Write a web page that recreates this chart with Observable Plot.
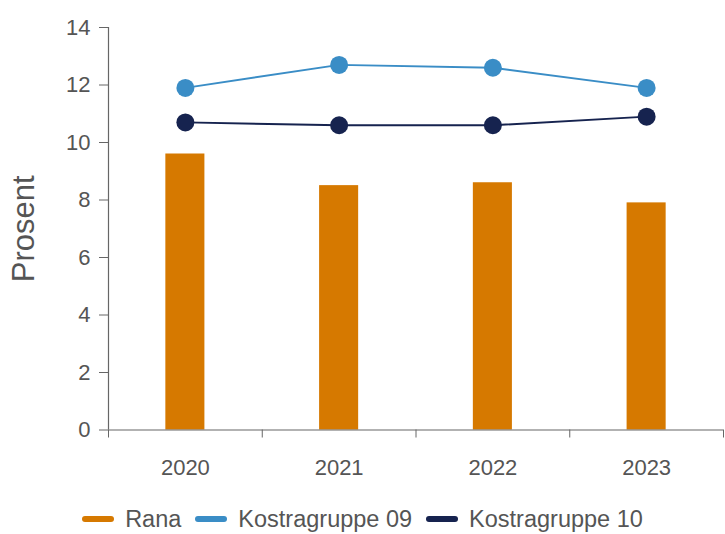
<!DOCTYPE html>
<html>
<head>
<meta charset="utf-8">
<script src="https://cdn.jsdelivr.net/npm/d3@7"></script>
<script src="https://cdn.jsdelivr.net/npm/@observablehq/plot@0.6"></script>
<style>
  html, body { margin: 0; padding: 0; background: #fff; }
  #chart { width: 725px; font-family: "Liberation Sans", Arial, sans-serif; color: #555; }
  #chart svg g[aria-label="y-axis label"] text { font-size: 31px; }
  .legend { display: flex; justify-content: center; align-items: center; margin-top: 6px; font-size: 23.5px; color: #555; height: 26px; }
  .legend .item { display: flex; align-items: center; margin: 0 7px; }
  .legend .sw { display: inline-block; width: 32px; height: 6px; border-radius: 3px; margin-right: 11px; }
</style>
</head>
<body>
<div id="chart"></div>
<script>
const years = [2020, 2021, 2022, 2023];
const rana = [9.6, 8.5, 8.6, 7.9];
const kostra09 = [11.9, 12.7, 12.6, 11.9];
const kostra10 = [10.7, 10.6, 10.6, 10.9];
const seriesNames = ["Rana", "Kostragruppe 09", "Kostragruppe 10"];
const colors = ["#d67900", "#3a8dc6", "#16234f"];
const yTicks = [0, 2, 4, 6, 8, 10, 12, 14];

const barData = years.map((y, i) => ({year: y, value: rana[i]}));
const lineData = [
  ...years.map((y, i) => ({year: y, value: kostra09[i], series: seriesNames[1]})),
  ...years.map((y, i) => ({year: y, value: kostra10[i], series: seriesNames[2]}))
];
const boundaries = years.map(y => y - 0.5).concat([years[years.length - 1] + 0.5]);
const halfBar = 0.127;

const plot = Plot.plot({
  width: 725,
  height: 500,
  marginLeft: 108,
  marginRight: 2,
  marginTop: 27,
  marginBottom: 70.5,
  style: {fontSize: "22px", fontFamily: "Liberation Sans, Arial, sans-serif", color: "#555", background: "#fff", overflow: "visible"},
  x: {domain: [boundaries[0], boundaries[boundaries.length - 1]]},
  y: {domain: [0, 14]},
  color: {domain: seriesNames, range: colors},
  marks: [
    Plot.rectY(barData, {x1: d => d.year - halfBar, x2: d => d.year + halfBar, y: "value", fill: colors[0]}),
    Plot.ruleY([0], {stroke: "#666", strokeWidth: 1.2}),
    Plot.ruleX([boundaries[0]], {stroke: "#666", strokeWidth: 1.2}),
    Plot.axisX({ticks: boundaries, tickSize: 8, tickFormat: () => "", stroke: "#666", label: null}),
    Plot.axisX({ticks: years, tickSize: 0, tickPadding: 29, tickFormat: d => String(d), label: null}),
    Plot.axisY({ticks: yTicks, tickSize: 9, tickPadding: 9, stroke: "#666", label: "Prosent", labelAnchor: "center", labelArrow: "none", labelOffset: 97}),
    Plot.line(lineData, {x: "year", y: "value", z: "series", stroke: "series", strokeWidth: 2}),
    Plot.dot(lineData, {x: "year", y: "value", fill: "series", r: 9})
  ]
});

const chart = document.getElementById("chart");
chart.appendChild(plot);

const legend = document.createElement("div");
legend.className = "legend";
seriesNames.forEach((name, i) => {
  const item = document.createElement("span");
  item.className = "item";
  const sw = document.createElement("span");
  sw.className = "sw";
  sw.style.background = colors[i];
  const label = document.createElement("span");
  label.textContent = name;
  item.appendChild(sw);
  item.appendChild(label);
  legend.appendChild(item);
});
chart.appendChild(legend);
</script>
</body>
</html>
